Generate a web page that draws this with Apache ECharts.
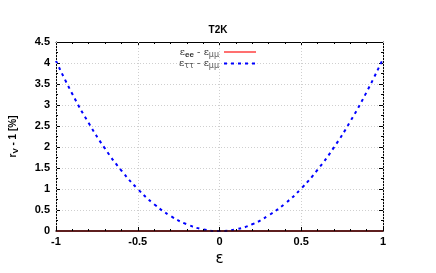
<!DOCTYPE html>
<html><head><meta charset="utf-8">
<script src="https://cdn.jsdelivr.net/npm/echarts@6/dist/echarts.min.js"></script>
<style>html,body{margin:0;padding:0;background:#fff}#c{width:436px;height:273px}</style>
</head><body><div id="c"></div>
<script>
const epsValues = [-1, -0.9, -0.8, -0.7, -0.6, -0.5, -0.4, -0.3, -0.2, -0.1, 0, 0.1, 0.2, 0.3, 0.4, 0.5, 0.6, 0.7, 0.8, 0.9, 1];
const eeMinusMuMu = [0, 0, 0, 0, 0, 0, 0, 0, 0, 0, 0, 0, 0, 0, 0, 0, 0, 0, 0, 0, 0];
const ttMinusMuMu = [4.05, 3.26, 2.57, 1.96, 1.44, 1.0, 0.64, 0.36, 0.16, 0.04, 0.0, 0.04, 0.16, 0.37, 0.65, 1.01, 1.46, 1.99, 2.61, 3.31, 4.1];
const xTicks = [-1, -0.5, 0, 0.5, 1];
const yTicks = [0, 0.5, 1, 1.5, 2, 2.5, 3, 3.5, 4, 4.5];

const FONT = 'Liberation Sans';
const chart = echarts.init(document.getElementById('c'), null, {renderer: 'canvas'});
const gridLine = {show: true, lineStyle: {color: '#cfcfcf', type: [1, 2], width: 1}};
const axisLine = {show: true, onZero: false, lineStyle: {color: '#000', width: 1}};
const fmt = v => (Math.abs(v) < 1e-9 ? '0' : String(+v.toFixed(2)));

chart.setOption({
  animation: false,
  title: {
    text: 'T2K', left: 'center', top: 20,
    textStyle: {fontFamily: FONT, fontSize: 10, fontWeight: 'bold', color: '#000'}
  },
  legend: {
    orient: 'vertical', right: 174, top: 42, align: 'right',
    itemWidth: 32, itemHeight: 8, itemGap: 0,
    itemStyle: {opacity: 0},
    data: ['ee', 'tt'],
    formatter: n => n === 'ee' ? '{a|ε}{b|ee}{a| - ε}{s|μμ}' : '{a|ε}{s|ττ}{a| - ε}{s|μμ}',
    textStyle: {
      fontFamily: FONT, fontSize: 10, color: '#333',
      rich: {
        a: {fontFamily: 'DejaVu Serif', fontSize: 10, color: '#333', verticalAlign: 'middle'},
        b: {fontFamily: FONT, fontSize: 8, fontWeight: 'bold', color: '#333', padding: [5, 0, 0, 0]},
        s: {fontFamily: 'DejaVu Sans', fontSize: 8, color: '#555', padding: [5, 0, 0, 0]}
      }
    }
  },
  grid: {left: 52, right: 53, top: 42, bottom: 42, containLabel: false},
  xAxis: [{
    type: 'value', min: -1, max: 1, interval: 0.5, position: 'bottom', z: 10,
    name: 'ε', nameLocation: 'middle', nameGap: 18,
    nameTextStyle: {fontFamily: 'DejaVu Sans', fontSize: 15, color: '#000'},
    axisLine: {show: true, onZero: false, lineStyle: {color: '#2a0505', width: 1.5}},
    axisTick: {show: true, inside: true, length: 4, lineStyle: {color: '#000'}},
    minorTick: {show: true, splitNumber: 5, length: 2, lineStyle: {color: '#000'}},
    splitLine: gridLine,
    axisLabel: {fontFamily: FONT, fontSize: 11, fontWeight: 'bold', color: '#000', margin: 5, formatter: fmt}
  }, {
    type: 'value', min: -1, max: 1, interval: 0.5, position: 'top',
    axisLine: axisLine,
    axisTick: {show: true, inside: true, length: 4, lineStyle: {color: '#000'}},
    minorTick: {show: true, splitNumber: 5, length: 2, lineStyle: {color: '#000'}},
    splitLine: {show: false}, axisLabel: {show: false}
  }],
  yAxis: [{
    type: 'value', min: 0, max: 4.5, interval: 0.5, position: 'left',
    name: '{a|r}{s|V}{a| - 1 [%]}', nameLocation: 'middle', nameGap: 36, nameRotate: 90,
    nameTextStyle: {
      fontFamily: FONT, fontSize: 10, fontWeight: 'bold', color: '#000',
      rich: {
        a: {fontFamily: FONT, fontSize: 10, fontWeight: 'bold', color: '#000'},
        s: {fontFamily: FONT, fontSize: 8, fontWeight: 'bold', color: '#000', padding: [6, 0, 0, 0]}
      }
    },
    axisLine: axisLine,
    axisTick: {show: true, inside: true, length: 4, lineStyle: {color: '#000'}},
    minorTick: {show: true, splitNumber: 2, length: 2, lineStyle: {color: '#000'}},
    splitLine: gridLine,
    axisLabel: {fontFamily: FONT, fontSize: 11, fontWeight: 'bold', color: '#000', margin: 6, formatter: fmt}
  }, {
    type: 'value', min: 0, max: 4.5, interval: 0.5, position: 'right',
    axisLine: axisLine,
    axisTick: {show: true, inside: true, length: 4, lineStyle: {color: '#000'}},
    minorTick: {show: true, splitNumber: 2, length: 2, lineStyle: {color: '#000'}},
    splitLine: {show: false}, axisLabel: {show: false}
  }],
  series: [{
    name: 'ee', type: 'line', xAxisIndex: 0, yAxisIndex: 0,
    data: epsValues.map((x, i) => [x, eeMinusMuMu[i]]),
    showSymbol: false, symbol: 'none', smooth: true,
    lineStyle: {color: '#ff7070', width: 2, type: 'solid'},
    itemStyle: {color: '#ff7070'}, z: 1
  }, {
    name: 'tt', type: 'line', xAxisIndex: 0, yAxisIndex: 0,
    data: epsValues.map((x, i) => [x, ttMinusMuMu[i]]),
    showSymbol: false, symbol: 'none', smooth: true,
    lineStyle: {color: '#0000ff', width: 2, type: [3, 4]},
    itemStyle: {color: '#0000ff'}, z: 3
  }]
});
</script></body></html>
